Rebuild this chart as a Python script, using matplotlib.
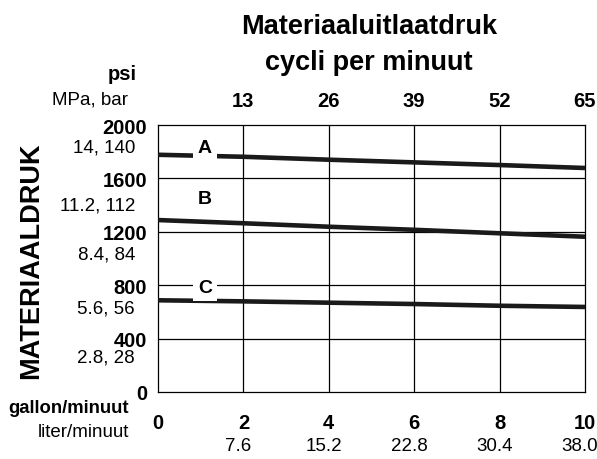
import matplotlib
matplotlib.use("Agg")
import matplotlib.pyplot as plt
import matplotlib.transforms as mtrans

plt.rcParams['font.family'] = ['Liberation Sans', 'DejaVu Sans']

# ---- data ----
flow_gpm = [0, 2, 4, 6, 8, 10]
line_A = [1777, 1762, 1740, 1720, 1700, 1678]
line_B = [1288, 1264, 1238, 1215, 1189, 1163]
line_C = [687, 679, 669, 659, 646, 637]
series_names = ['A', 'B', 'C']
label_psi = [1828, 1453, 785]   # label anchors (psi) at x=1.1

psi_ticks = [0, 400, 800, 1200, 1600, 2000]
mpa_labels = ['14, 140', '11.2, 112', '8.4, 84', '5.6, 56', '2.8, 28']
mpa_pos = [1835, 1400, 1030, 630, 262]
gpm_ticks = [0, 2, 4, 6, 8, 10]
lpm_labels = ['7.6', '15.2', '22.8', '30.4', '38.0']
cycle_labels = ['13', '26', '39', '52', '65']

W, H = 597, 460
fig = plt.figure(figsize=(W / 100, H / 100), dpi=100)
ax = fig.add_axes([158 / W, 1 - 393 / H, (585 - 158) / W, (393 - 126) / H])
ax.set_xlim(0, 10)
ax.set_ylim(0, 2000)

# grid
for x in gpm_ticks[1:-1]:
    ax.axvline(x, color='black', lw=0.9, zorder=1)
for y in psi_ticks[1:-1]:
    ax.axhline(y, color='black', lw=0.9, zorder=1)
for s in ax.spines.values():
    s.set_linewidth(0.9)

for vals in (line_A, line_B, line_C):
    ax.plot(flow_gpm, vals, color='#1a1a1a', lw=3.3, solid_capstyle='butt', zorder=3)

for name, yv in zip(series_names, label_psi):
    ax.text(1.1, yv, name, ha='center', va='center', fontsize=14, fontweight='bold',
            zorder=4, bbox=dict(facecolor='white', edgecolor='none', pad=3.5))

# bottom ticks
ax.set_xticks(gpm_ticks)
ax.set_xticklabels([str(v) for v in gpm_ticks], fontsize=14.5, fontweight='bold')
ax.tick_params(axis='x', length=0, pad=15)
ax.set_yticks(psi_ticks)
ax.set_yticklabels([str(v) for v in psi_ticks], fontsize=14.5, fontweight='bold')
ax.tick_params(axis='y', length=0, pad=8)

# top ticks
ax2 = ax.twiny()
ax2.set_xlim(0, 10)
ax2.set_xticks(gpm_ticks[1:])
ax2.set_xticklabels(cycle_labels, fontsize=14.5, fontweight='bold')
ax2.tick_params(axis='x', length=0, pad=11)
for s in ax2.spines.values():
    s.set_visible(False)

# liter/min labels
tb = mtrans.blended_transform_factory(ax.transData, fig.transFigure)
for x, lab in zip(gpm_ticks[1:], lpm_labels):
    ax.text(x - 0.12, 1 - 447 / H, lab, transform=tb, ha='center', va='center', fontsize=13.5)

# MPa labels
ty = mtrans.blended_transform_factory(fig.transFigure, ax.transData)
for yv, lab in zip(mpa_pos, mpa_labels):
    ax.text(135 / W, yv, lab, transform=ty, ha='right', va='center', fontsize=13.5)

fig.text(122 / W, 1 - 75 / H, 'psi', ha='center', va='center', fontsize=14.5, fontweight='bold')
fig.text(128 / W, 1 - 100 / H, 'MPa, bar', ha='right', va='center', fontsize=13.5)
fig.text(129 / W, 1 - 409 / H, 'gallon/minuut', ha='right', va='center', fontsize=13.3, fontweight='bold')
fig.text(129 / W, 1 - 433 / H, 'liter/minuut', ha='right', va='center', fontsize=13.5)
fig.text(31 / W, 1 - 261 / H, 'MATERIAALDRUK', rotation=90, ha='center', va='center',
         fontsize=19.5, fontweight='bold')
fig.text(369 / W, 1 - 27 / H, 'Materiaaluitlaatdruk', ha='center', va='center',
         fontsize=19.5, fontweight='bold')
fig.text(369 / W, 1 - 63 / H, 'cycli per minuut', ha='center', va='center',
         fontsize=19.5, fontweight='bold')

fig.savefig('out.png', dpi=100)
